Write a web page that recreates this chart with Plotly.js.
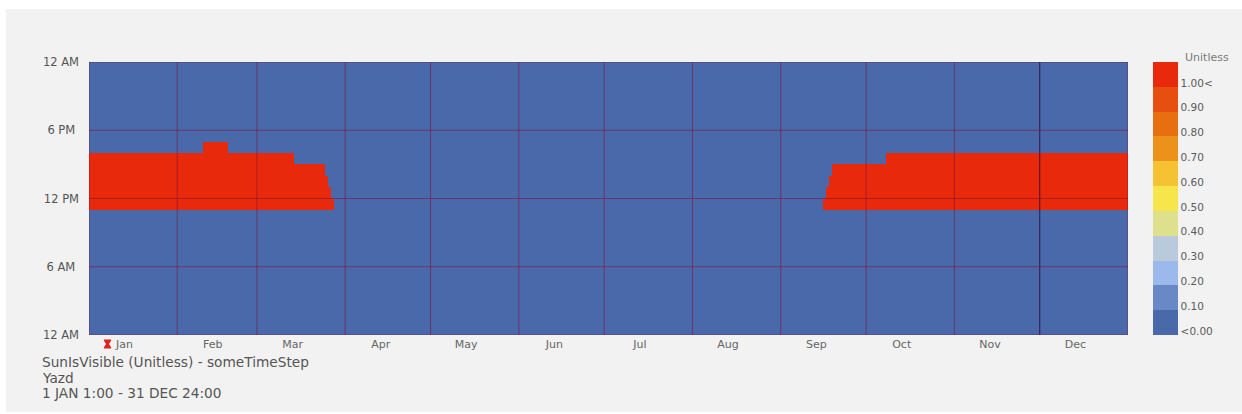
<!DOCTYPE html>
<html>
<head>
<meta charset="utf-8">
<script src="https://cdn.plot.ly/plotly-3.0.1.min.js"></script>
<style>
  html, body { margin: 0; padding: 0; background: #ffffff; }
  #chart { position: absolute; left: 6px; top: 9px; width: 1236px; height: 403px; }
</style>
</head>
<body>
<div id="chart"></div>
<script>
// Calendar: month names and the day-of-year each month starts on (last entry = year end)
const months = ['Jan', 'Feb', 'Mar', 'Apr', 'May', 'Jun', 'Jul', 'Aug', 'Sep', 'Oct', 'Nov', 'Dec'];
const monthStartDay = [0, 31, 59, 90, 120, 151, 181, 212, 243, 273, 304, 334, 365];

// Hour-of-day axis
const gridHours = [0, 6, 12, 18, 24];
const hourTickText = ['12 AM', '6 AM\u2004', '12 PM', '6 PM\u2004', '12 AM'];

// Hours in which the sun is visible: hour row, first day, day after the last
const visibleHour = [11, 12, 13, 14, 15, 16, 11, 12, 13, 14, 15];
const visibleFrom = [0, 0, 0, 0, 0, 40, 258, 259, 260, 261, 280];
const visibleTo   = [86, 85, 84, 83, 72, 49, 365, 365, 365, 365, 365];

// Legend classes, bottom to top
const legendValues = [0, 0.1, 0.2, 0.3, 0.4, 0.5, 0.6, 0.7, 0.8, 0.9, 1.0];
const legendText = ['<0.00', '0.10', '0.20', '0.30', '0.40', '0.50', '0.60', '0.70', '0.80', '0.90', '1.00<'];
const legendColors = ['#4a69aa', '#6888c6', '#9bb9ea', '#b9cadc', '#dfe08e', '#f6e64c',
                      '#f4c232', '#ec9119', '#e86f10', '#e64f10', '#e8290b'];

// Caption lines under the chart
const captionLines = ['SunIsVisible (Unitless) - someTimeStep', 'Yazd', '1 JAN 1:00 - 31 DEC 24:00'];

// Day of the analysis-period marker under the time axis
const periodMarkerDay = 6.5;

// ---- build the hourly grid (24 rows x 365 days) ----
const nDays = monthStartDay[monthStartDay.length - 1];
const dayCenters = Array.from({length: nDays}, (_, d) => d + 0.5);
const hourCenters = Array.from({length: 24}, (_, h) => h + 0.5);
const z = hourCenters.map(() => new Array(nDays).fill(0));
visibleHour.forEach((h, i) => {
  for (let d = visibleFrom[i]; d < visibleTo[i]; d++) z[h][d] = 1;
});

// stepped colour scale, one band per legend class
const step = 0.1;
const zmin = legendValues[0] - 0.016;
const zmax = legendValues[legendValues.length - 1] + step - 0.016;
const colorscale = [];
legendColors.forEach((c, i) => {
  colorscale.push([i / legendColors.length, c]);
  colorscale.push([(i + 1) / legendColors.length, c]);
});

const heat = {
  type: 'heatmap',
  x: dayCenters,
  y: hourCenters,
  z: z,
  zmin: zmin,
  zmax: zmax,
  colorscale: colorscale,
  hoverinfo: 'skip',
  colorbar: {
    x: 1.024, xanchor: 'left', xpad: 0,
    y: 0, yanchor: 'bottom', ypad: 0,
    len: 1, lenmode: 'fraction',
    thickness: 25, thicknessmode: 'pixels',
    outlinewidth: 0,
    tickmode: 'array',
    tickvals: legendValues,
    ticktext: legendText,
    ticks: '',
    ticklabelstandoff: 2,
    tickfont: {family: 'DejaVu Sans', size: 10.5, color: '#5a5a5a'}
  }
};

// grid lines drawn over the cells
const gridColor = 'rgba(125, 20, 60, 0.6)';
const shapes = [];
monthStartDay.forEach(d => shapes.push({
  type: 'line', xref: 'x', yref: 'y', x0: d, x1: d, y0: 0, y1: 24,
  layer: 'above', line: {color: d === monthStartDay[11] ? 'rgba(40, 10, 50, 0.85)' : gridColor, width: 1}
}));
gridHours.forEach(h => shapes.push({
  type: 'line', xref: 'x', yref: 'y', x0: 0, x1: nDays, y0: h, y1: h,
  layer: 'above', line: {color: gridColor, width: 1}
}));
// small hourglass marking the start of the period, just under the time axis
shapes.push({
  type: 'path', xref: 'x', yref: 'paper',
  xsizemode: 'pixel', ysizemode: 'pixel',
  xanchor: periodMarkerDay, yanchor: 0,
  path: 'M-3.5,-5 L3.5,-5 L1,-9 L3.5,-13 L-3.5,-13 L-1,-9 Z',
  layer: 'above', fillcolor: '#e3201c', line: {color: '#e3201c', width: 1}
});

const captionY = [-0.099, -0.157, -0.2125];

const layout = {
  width: 1236,
  height: 403,
  margin: {l: 83, r: 114, t: 53, b: 77},
  paper_bgcolor: '#f2f2f2',
  plot_bgcolor: '#4a69aa',
  showlegend: false,
  xaxis: {
    range: [0, nDays],
    tickmode: 'array',
    tickvals: months.map((_, i) => monthStartDay[i] + 12.5),
    ticktext: months,
    ticks: '',
    showgrid: false, zeroline: false, showline: false,
    ticklabelstandoff: 1,
    tickfont: {family: 'DejaVu Sans', size: 11, color: '#666666'},
    fixedrange: true
  },
  yaxis: {
    range: [0, 24],
    tickmode: 'array',
    tickvals: gridHours,
    ticktext: hourTickText,
    ticks: '',
    showgrid: false, zeroline: false, showline: false,
    ticklabelstandoff: 9,
    tickfont: {family: 'DejaVu Sans', size: 11.5, color: '#555555'},
    fixedrange: true
  },
  shapes: shapes,
  annotations: [
    {
      text: 'Unitless', xref: 'paper', yref: 'paper',
      x: 1.053, y: 1.018, xanchor: 'left', yanchor: 'middle', showarrow: false,
      font: {family: 'DejaVu Sans', size: 11, color: '#7a7a7a'}
    }
  ].concat(captionLines.map((t, i) => ({
    text: t, xref: 'paper', yref: 'paper',
    x: -0.047, y: captionY[i], xanchor: 'left', yanchor: 'middle', align: 'left', showarrow: false,
    font: {family: 'DejaVu Sans', size: 13.7, color: '#555555'}
  })))
};

Plotly.newPlot('chart', [heat], layout, {displayModeBar: false, staticPlot: true});
</script>
</body>
</html>
